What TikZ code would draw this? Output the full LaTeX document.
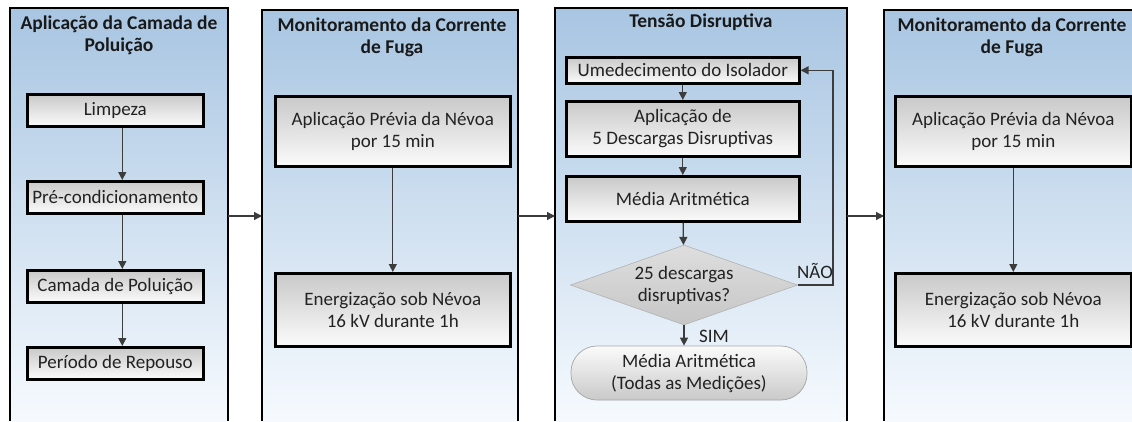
\documentclass[tikz,border=0pt]{standalone}
\usepackage{fontspec}
\setmainfont{Carlito}
\usetikzlibrary{arrows.meta,shapes.geometric,calc}
\definecolor{panelTop}{HTML}{A8C5E2}
\definecolor{panelBot}{HTML}{F6FAFE}
\definecolor{boxTop}{HTML}{C9C9C9}
\definecolor{boxBot}{HTML}{FBFBFB}
\definecolor{diaTop}{HTML}{DEDEDE}
\definecolor{diaBot}{HTML}{C6C6C6}
\definecolor{lineCol}{HTML}{3C3C3C}
\definecolor{txtCol}{HTML}{222222}
\tikzset{
  panelfill/.style={top color=panelTop,bottom color=panelBot,draw=none},
  panelline/.style={draw=black,line width=2.6pt},
  ptitle/.style={font=\fontsize{19.5}{22}\selectfont\bfseries,text=black!90,align=center,inner sep=0pt},
  boxfont/.style={font=\fontsize{19}{22}\selectfont,text=txtCol,align=center},
  stepbox/.style={boxfont,draw=black,line width=2.6pt,top color=boxTop,bottom color=boxBot,
    inner sep=0pt,anchor=north west},
  flow/.style={draw=lineCol,line width=1.3pt,-{Triangle[length=8pt,width=8pt]}},
  lbl/.style={font=\fontsize{19}{22}\selectfont,text=txtCol,inner sep=0pt},
}
\begin{document}
\begin{tikzpicture}[x=1pt,y=-1pt]
\useasboundingbox (0,0) rectangle (1132,421);
\fill[white] (0,0) rectangle (1132,421);
% panels
\fill[panelfill] (10,8) rectangle (228,421);
\draw[panelline] (10,421) -- (10,8) -- (228,8) -- (228,421);
\fill[panelfill] (262,10) rectangle (518,421);
\draw[panelline] (262,421) -- (262,10) -- (518,10) -- (518,421);
\fill[panelfill] (555,8) rectangle (847,421);
\draw[panelline] (555,421) -- (555,8) -- (847,8) -- (847,421);
\fill[panelfill] (884,10) rectangle (1132,421);
\draw[panelline] (884,421) -- (884,10) -- (1132,10);
% panel anchors
\coordinate (p1r) at (228,216);
\coordinate (p2l) at (262,216);
\coordinate (p2r) at (518,216);
\coordinate (p3l) at (555,216);
\coordinate (p3r) at (847,216);
\coordinate (p4l) at (884,216);
% titles
\node[ptitle] (t1) at (119,35) {Aplicação da Camada de\\Poluição};
\node[ptitle] (t2) at (392,37) {Monitoramento da Corrente\\de Fuga};
\node[ptitle] (t3) at (701,22) {Tensão Disruptiva};
\node[ptitle] (t4) at (1012,37) {Monitoramento da Corrente\\de Fuga};
% panel 1
\node[stepbox,minimum width=176pt,minimum height=32pt] (a1) at (26,93) {Limpeza};
\node[stepbox,minimum width=176pt,minimum height=32pt] (a2) at (26,180) {Pré-condicionamento};
\node[stepbox,minimum width=176pt,minimum height=32pt] (a3) at (26,269) {Camada de Poluição};
\node[stepbox,minimum width=176pt,minimum height=32pt] (a4) at (26,346) {Período de Repouso};
\draw[flow] ($(a1.south)+(7,0)$) -- ($(a2.north)+(7,0)$);
\draw[flow] ($(a2.south)+(7,0)$) -- ($(a3.north)+(7,0)$);
\draw[flow] ($(a3.south)+(7,0)$) -- ($(a4.north)+(7,0)$);
% panel 2
\node[stepbox,minimum width=235pt,minimum height=70pt] (b1) at (274,95) {Aplicação Prévia da Névoa\\por 15 min};
\node[stepbox,minimum width=235pt,minimum height=73pt] (b2) at (274,272) {Energização sob Névoa\\16 kV durante 1h};
\draw[flow] (b1) -- (b2);
% panel 3
\node[stepbox,minimum width=233pt,minimum height=26pt] (c1) at (565,56) {Umedecimento do Isolador};
\node[stepbox,minimum width=233pt,minimum height=55pt] (c2) at (565,100) {Aplicação de\\5 Descargas Disruptivas};
\node[stepbox,minimum width=233pt,minimum height=45pt] (c3) at (565,175) {Média Aritmética};
\node[diamond,aspect=2.84,boxfont,draw=gray!60,line width=0.6pt,top color=diaTop,bottom color=diaBot,
  minimum width=227pt,minimum height=80pt,inner sep=0pt] (c4) at (684,285) {25 descargas\\disruptivas?};
\node[boxfont,draw=gray!70,line width=0.7pt,top color=boxBot,bottom color=boxTop,rounded corners=26pt,
  minimum width=236pt,minimum height=54pt,inner sep=0pt] (c5) at (689,373) {Média Aritmética\\(Todas as Medições)};
\draw[flow] (c1) -- (c2);
\draw[flow] (c2) -- (c3);
\draw[flow] (c3) -- (c4);
\draw[flow] (c4) -- (c5.north -| c4);
\coordinate (loopc) at (833,285);
\draw[flow] (c4.east) -- (loopc) |- (c1.east);
\node[lbl] (nao) at (815,271) {NÃO};
\node[lbl] (sim) at (714,336) {SIM};
% panel 4
\node[stepbox,minimum width=236pt,minimum height=70pt] (d1) at (894,95) {Aplicação Prévia da Névoa\\por 15 min};
\node[stepbox,minimum width=236pt,minimum height=73pt] (d2) at (894,272) {Energização sob Névoa\\16 kV durante 1h};
\draw[flow] (d1) -- (d2);
% between panels
\draw[flow] (p1r) -- (p2l);
\draw[flow] (p2r) -- (p3l);
\draw[flow] (p3r) -- (p4l);
\end{tikzpicture}
\end{document}
